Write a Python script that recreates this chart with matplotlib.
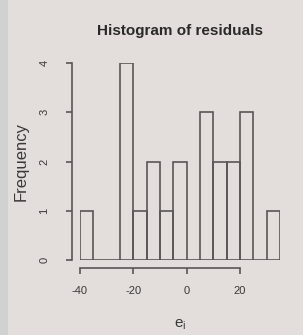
import matplotlib
matplotlib.use("Agg")
import matplotlib.pyplot as plt
import numpy as np

bin_edges = [-40, -35, -30, -25, -20, -15, -10, -5, 0, 5, 10, 15, 20, 25, 30, 35]
counts = [1, 0, 0, 4, 1, 2, 1, 2, 0, 3, 2, 2, 3, 0, 1]
x_ticks = [-40, -20, 0, 20]
y_ticks = [0, 1, 2, 3, 4]

bg = '#e3dedb'
line_c = '#5a5656'
text_c = '#3a3838'

plt.rcParams['font.family'] = ['Liberation Sans', 'DejaVu Sans']
plt.rcParams['axes.unicode_minus'] = False

fig = plt.figure(figsize=(3.03, 3.35), dpi=100, facecolor=bg)
# left edge strip of photo
fig.patches.append(matplotlib.patches.Rectangle((0, 0), 0.025, 1, transform=fig.transFigure,
                                                 facecolor='#cfd2d1', edgecolor='none', zorder=0))
ax = fig.add_axes([80/303, (335-260)/335, 200/303, (260-63)/335])
ax.set_facecolor('none')

widths = np.diff(bin_edges)
ax.bar(bin_edges[:-1], counts, width=widths, align='edge', facecolor='none',
       edgecolor=line_c, linewidth=1.2)

ax.set_xlim(bin_edges[0], bin_edges[-1])
ax.set_ylim(0, 4)
for s in ['top', 'right']:
    ax.spines[s].set_visible(False)
ax.spines['left'].set_position(('outward', 6))
ax.spines['bottom'].set_position(('outward', 6))
ax.spines['left'].set_bounds(0, 4)
ax.spines['bottom'].set_bounds(-40, 20)
for s in ['left', 'bottom']:
    ax.spines[s].set_color(line_c)
    ax.spines[s].set_linewidth(1.2)

ax.set_xticks(x_ticks)
ax.set_yticks(y_ticks)
ax.set_yticklabels([str(v) for v in y_ticks], rotation=90, va='center')
ax.tick_params(axis='both', colors=line_c, labelcolor=text_c, labelsize=8, length=4, width=1.2)
ax.tick_params(axis='x', pad=9)
ax.tick_params(axis='y', pad=12)

ax.set_xlabel('$\\mathregular{e_i}$', fontsize=11, color=text_c, labelpad=15)
ax.set_ylabel('Frequency', fontsize=12, color=text_c, labelpad=8)
ax.set_title('Histogram of residuals', fontsize=11, fontweight='bold', color='#2a2828', pad=20)

fig.savefig('out.png', dpi=100, facecolor=bg)
